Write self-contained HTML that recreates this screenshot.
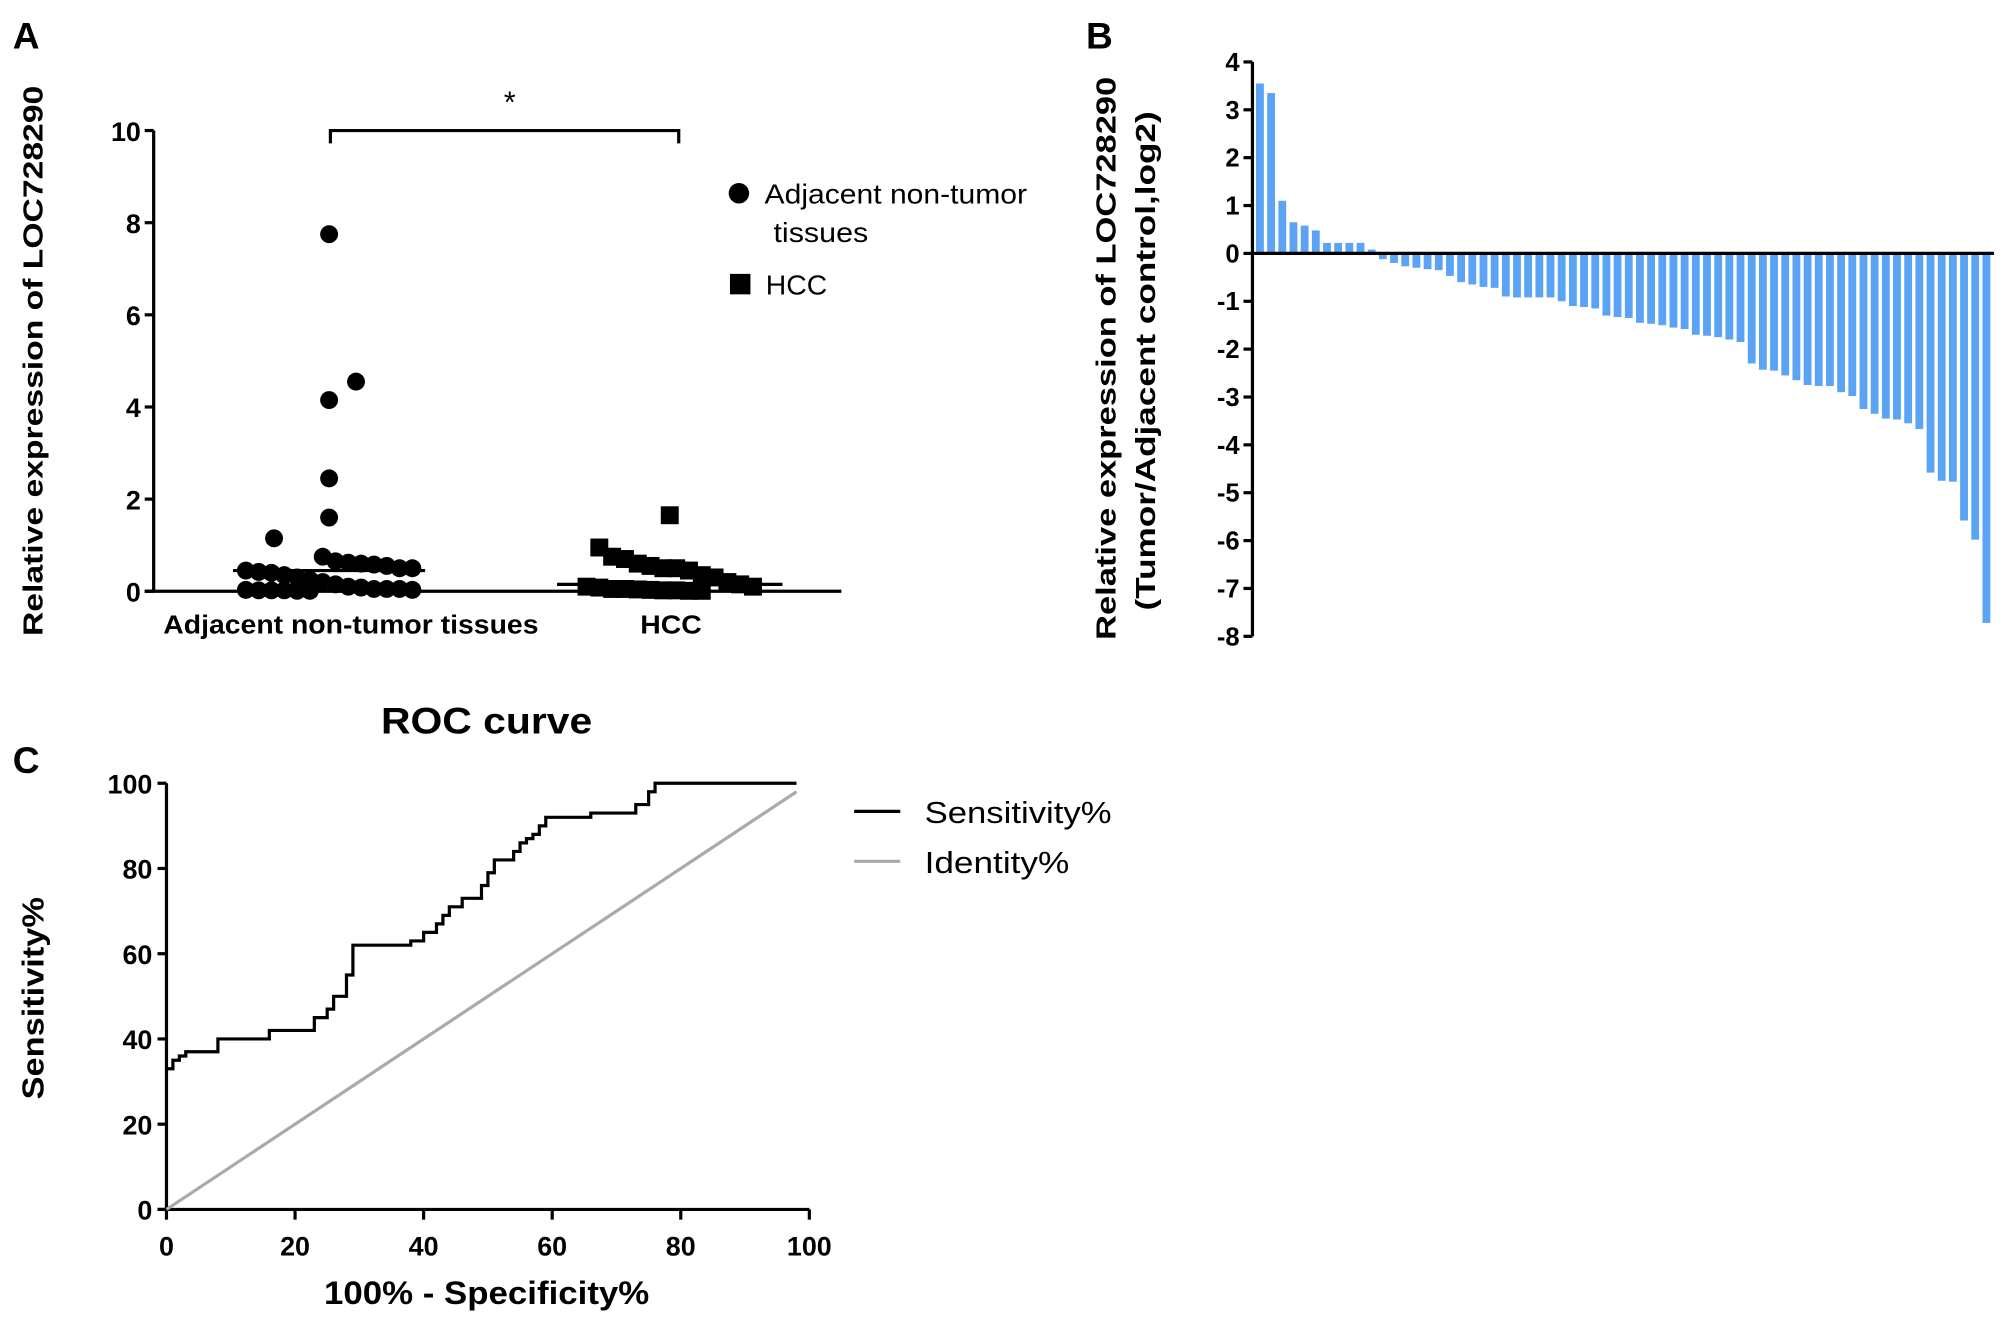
<!DOCTYPE html>
<html><head><meta charset="utf-8"><style>
html,body{margin:0;padding:0;background:#fff;}
svg{display:block;font-family:"Liberation Sans",Arial,sans-serif;}
.b{font-weight:bold;}
</style></head><body>
<svg id="fig" width="2008" height="1331" viewBox="0 0 1568 1040" preserveAspectRatio="none" xmlns="http://www.w3.org/2000/svg">
<g id="pa"></g>
<g id="pb"></g>
<g id="pc"></g>
</svg>
<script>
// ---------- Panel A data ----------
const aCategories = ["Adjacent non-tumor tissues", "HCC"];
const aAdjacent = [7.75,4.55,4.15,2.45,1.6,1.15,0.75,0.65,0.62,0.6,0.58,0.55,0.5,0.5,0.45,0.42,0.4,0.35,0.3,0.25,0.2,0.15,0.1,0.08,0.05,0.05,0.05,0.03,0.03,0.02,0.02,0.02,0.01,0.01];
const aHCC = [1.65,0.95,0.75,0.7,0.6,0.55,0.5,0.5,0.45,0.35,0.3,0.2,0.15,0.1,0.1,0.08,0.05,0.05,0.04,0.03,0.02,0.02,0.01,0.01];
const aMeans = [0.45, 0.15];
const aYTicks = [0,2,4,6,8,10];
// ---------- Panel B data ----------
const bValues = [3.55,3.35,1.1,0.65,0.58,0.48,0.22,0.22,0.22,0.22,0.08,
-0.12,-0.2,-0.27,-0.3,-0.33,-0.35,-0.47,-0.6,-0.65,-0.7,-0.72,-0.9,-0.92,-0.92,-0.92,-0.92,-1.0,-1.1,-1.12,-1.15,-1.3,-1.33,-1.35,-1.45,-1.47,-1.5,-1.55,-1.58,-1.7,-1.72,-1.75,-1.8,-1.85,-2.3,-2.43,-2.45,-2.55,-2.65,-2.75,-2.77,-2.77,-2.9,-2.98,-3.25,-3.35,-3.45,-3.47,-3.55,-3.67,-4.58,-4.75,-4.77,-5.58,-5.98,-7.72];
const bYTicks = [4,3,2,1,0,-1,-2,-3,-4,-5,-6,-7,-8];
// ---------- Panel C data ----------
const rocX = [0,1,1,2,2,3,3,8,8,16,16,23,23,25,25,26,26,28,28,29,29,38,38,40,40,42,42,43,43,44,44,46,46,49,49,50,50,51,51,54,54,55,55,56,56,57,57,58,58,59,59,66,66,73,73,75,75,76,76,98];
const rocY = [33,33,35,35,36,36,37,37,40,40,42,42,45,45,47,47,50,50,55,55,62,62,63,63,65,65,67,67,69,69,71,71,73,73,76,76,79,79,82,82,84,84,86,86,87,87,88,88,90,90,92,92,93,93,95,95,98,98,100,100];
const idX = [0,98];
const idY = [0,98];
const cTicks = [0,20,40,60,80,100];

const NS="http://www.w3.org/2000/svg";
function mk(parent,tag,attrs,text){const e=document.createElementNS(NS,tag);for(const k in attrs)e.setAttribute(k,attrs[k]);if(text!==undefined)e.textContent=text;parent.appendChild(e);return e;}
function fit(e,len){e.setAttribute('textLength',len);e.setAttribute('lengthAdjust','spacingAndGlyphs');return e;}

// ===== Panel A =====
const pa=document.getElementById('pa');
const ayA=v=>462-v*36;
let t;
t=mk(pa,'text',{x:10,y:38,'font-size':29,class:'b'},'A');


t=mk(pa,'line',{x1:120,y1:ayA(10),x2:120,y2:463,stroke:'#000','stroke-width':2.5});


t=mk(pa,'line',{x1:113,y1:462,x2:657,y2:462,stroke:'#000','stroke-width':2.5});


aYTicks.forEach(v=>{
  mk(pa,'line',{x1:113,y1:ayA(v),x2:120,y2:ayA(v),stroke:'#000','stroke-width':2.5});
  t=mk(pa,'text',{x:110,y:ayA(v)+8,'font-size':21,'text-anchor':'end',class:'b'},v);
  
  
});
t=fit(mk(pa,'text',{transform:'translate(33,282) rotate(-90)','font-size':22,'text-anchor':'middle',class:'b'},'Relative expression of LOC728290'),430);


const aCx=[257,523];
const aLabelLen=[293,48];
aCategories.forEach((c,i)=>{
  t=fit(mk(pa,'text',{x:[274,524][i],y:495,'font-size':20,'text-anchor':'middle',class:'b'},c),aLabelLen[i]);
  
  
});
function swarm(vals,cx,shape){
  vals.forEach((v,i)=>{
    let dx;
    if(v>1) dx=[0,21,0,0,0,-43,21][i%7]||0;
    else { const k=i%14; dx=(k-6.5)*10; }
    if(shape==='c'){
      t=mk(pa,'circle',{cx:cx+dx,cy:ayA(v),r:7,fill:'#000'});
      
    } else {
      t=mk(pa,'rect',{x:cx+dx-7,y:ayA(v)-7,width:14,height:14,fill:'#000'});
      
    }
    
  });
}
swarm(aAdjacent,aCx[0],'c');
swarm(aHCC,aCx[1],'s');
aMeans.forEach((m,i)=>{
  const hw=i===0?75:88;
  t=mk(pa,'line',{x1:aCx[i]-hw,y1:ayA(m),x2:aCx[i]+hw,y2:ayA(m),stroke:'#000','stroke-width':2.5});
  
  
});
t=mk(pa,'path',{d:'M258 112 V102 H530 V112',fill:'none',stroke:'#000','stroke-width':2.5});


t=mk(pa,'text',{x:398,y:88,'font-size':24,'text-anchor':'middle'},'*');


t=mk(pa,'circle',{cx:577,cy:151,r:8,fill:'#000'});


t=fit(mk(pa,'text',{x:597,y:159,'font-size':22},'Adjacent non-tumor'),205);


fit(mk(pa,'text',{x:604,y:189,'font-size':22},'tissues'),74);
t=mk(pa,'rect',{x:570,y:214,width:16,height:16,fill:'#000'});


t=fit(mk(pa,'text',{x:598,y:230,'font-size':22},'HCC'),48);



// ===== Panel B =====
const pb=document.getElementById('pb');
const ayB=v=>198-v*37.4;
const bx0=980, bStep=(1556-bx0)/bValues.length;
t=mk(pb,'text',{x:848,y:38,'font-size':29,class:'b'},'B');


bValues.forEach((v,i)=>{
  const y1=ayB(Math.max(v,0)), y2=ayB(Math.min(v,0));
  t=mk(pb,'rect',{x:bx0+i*bStep+0.8,y:y1,width:bStep*0.7,height:y2-y1,fill:'#5ba3f5'});
  
  
});
t=mk(pb,'line',{x1:978,y1:ayB(4),x2:978,y2:ayB(-8),stroke:'#000','stroke-width':2.5});


t=mk(pb,'line',{x1:978,y1:ayB(0),x2:1557,y2:ayB(0),stroke:'#000','stroke-width':2.5});


bYTicks.forEach(v=>{
  mk(pb,'line',{x1:971,y1:ayB(v),x2:978,y2:ayB(v),stroke:'#000','stroke-width':2.5});
  t=mk(pb,'text',{x:968,y:ayB(v)+7,'font-size':20,'text-anchor':'end',class:'b'},v);
  
  
});
t=fit(mk(pb,'text',{transform:'translate(871,280) rotate(-90)','font-size':22,'text-anchor':'middle',class:'b'},'Relative expression of LOC728290'),440);


fit(mk(pb,'text',{transform:'translate(902,282) rotate(-90)','font-size':22,'text-anchor':'middle',class:'b'},'(Tumor/Adjacent control,log2)'),390);

// ===== Panel C =====
const pc=document.getElementById('pc');
const cxS=v=>130+v*5.02, cyS=v=>945-v*3.33;
t=mk(pc,'text',{x:10,y:604,'font-size':29,class:'b'},'C');


t=fit(mk(pc,'text',{x:380,y:573,'font-size':29,'text-anchor':'middle',class:'b'},'ROC curve'),165);


t=mk(pc,'line',{x1:130,y1:cyS(100),x2:130,y2:946,stroke:'#000','stroke-width':2.5});


t=mk(pc,'line',{x1:123,y1:945,x2:cxS(100),y2:945,stroke:'#000','stroke-width':2.5});


cTicks.forEach(v=>{
  mk(pc,'line',{x1:123,y1:cyS(v),x2:130,y2:cyS(v),stroke:'#000','stroke-width':2.5});
  t=mk(pc,'text',{x:119,y:cyS(v)+8,'font-size':21,'text-anchor':'end',class:'b'},v);
  
  
  mk(pc,'line',{x1:cxS(v),y1:945,x2:cxS(v),y2:953,stroke:'#000','stroke-width':2.5});
  t=mk(pc,'text',{x:cxS(v),y:981,'font-size':21,'text-anchor':'middle',class:'b'},v);
  
  
});
t=fit(mk(pc,'text',{transform:'translate(34,780) rotate(-90)','font-size':24,'text-anchor':'middle',class:'b'},'Sensitivity%'),158);


t=fit(mk(pc,'text',{x:380,y:1019,'font-size':25,'text-anchor':'middle',class:'b'},'100% - Specificity%'),254);


t=mk(pc,'polyline',{points:idX.map((x,i)=>cxS(x)+','+cyS(idY[i])).join(' '),fill:'none',stroke:'#aaa','stroke-width':2.5});


t=mk(pc,'polyline',{points:rocX.map((x,i)=>cxS(x)+','+cyS(rocY[i])).join(' '),fill:'none',stroke:'#000','stroke-width':2.5});


t=mk(pc,'line',{x1:667,y1:634,x2:703,y2:634,stroke:'#000','stroke-width':2.5});


t=fit(mk(pc,'text',{x:722,y:643,'font-size':24},'Sensitivity%'),146);


t=mk(pc,'line',{x1:667,y1:673,x2:703,y2:673,stroke:'#aaa','stroke-width':2.5});


t=fit(mk(pc,'text',{x:722,y:682,'font-size':24},'Identity%'),113);


</script>
</body></html>
